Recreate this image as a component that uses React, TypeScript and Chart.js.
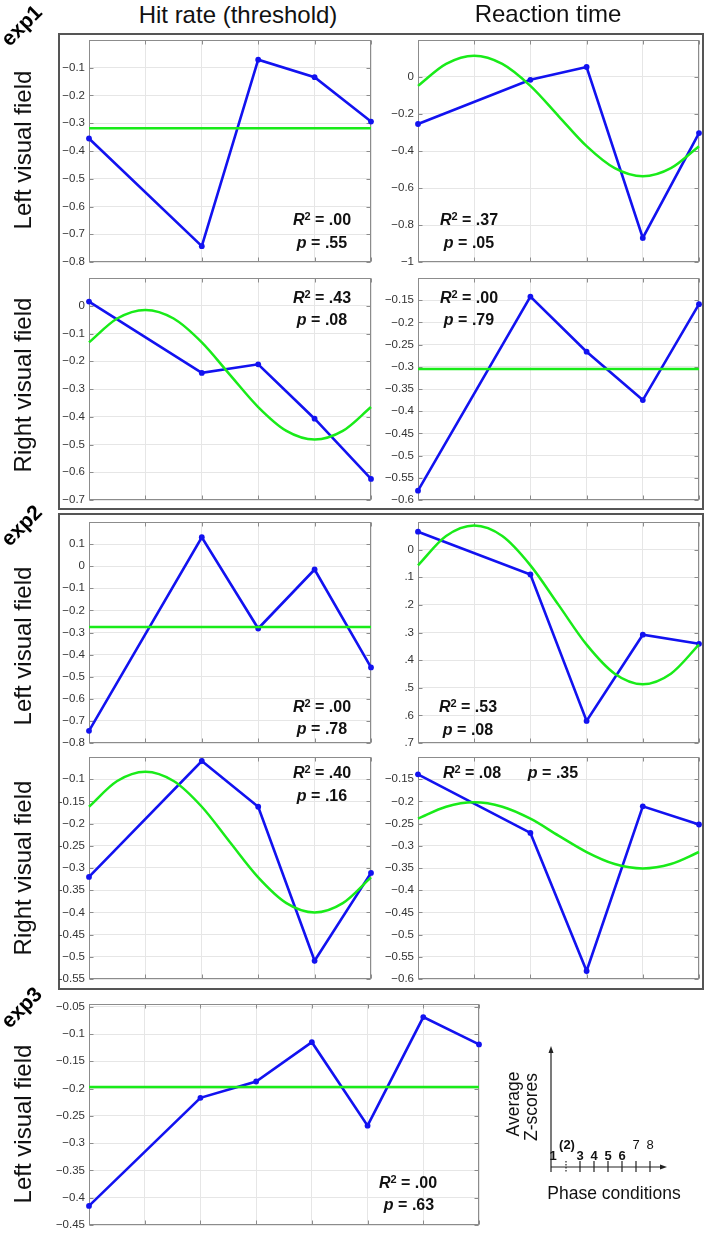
import React, { useEffect, useRef } from "react";
import { Chart, registerables } from "chart.js";
Chart.register(...registerables);

const FONT = "'Liberation Sans', Arial, Helvetica, sans-serif";
const BLUE = "rgb(18,18,240)";
const GREEN = "rgb(25,235,25)";

// ---------- data ----------
const phaseExp12 = [1, 3, 4, 5, 6];
const phaseExp3 = [1, 3, 4, 5, 6, 7, 8];
const fitPhase = [1, 1.5, 2, 2.5, 3, 3.5, 4, 4.5, 5, 5.5, 6];
const flatPhase12 = [1, 6];
const flatPhase3 = [1, 8];

// exp1
const hitL1 = [-0.355, -0.743, -0.071, -0.134, -0.294];
const fitHitL1 = [-0.318, -0.318];
const rtL1 = [-0.254, -0.015, 0.054, -0.87, -0.303];
const fitRtL1 = [-0.048, 0.071, 0.115, 0.071, -0.048, -0.211, -0.374, -0.493, -0.537, -0.493, -0.374];
const hitR1 = [0.015, -0.242, -0.211, -0.407, -0.624];
const fitHitR1 = [-0.132, -0.046, -0.015, -0.046, -0.132, -0.249, -0.365, -0.451, -0.482, -0.451, -0.365];
const rtR1 = [-0.579, -0.142, -0.266, -0.375, -0.159];
const fitRtR1 = [-0.305, -0.305];
// exp2
const hitL2 = [-0.745, 0.131, -0.282, -0.015, -0.458];
const fitHitL2 = [-0.275, -0.275];
const rtL2 = [0.065, -0.09, -0.62, -0.308, -0.341];
const fitRtL2 = [-0.057, 0.049, 0.087, 0.049, -0.057, -0.2, -0.344, -0.449, -0.487, -0.449, -0.344];
const hitR2 = [-0.32, -0.059, -0.162, -0.509, -0.311];
const fitHitR2 = [-0.162, -0.104, -0.083, -0.104, -0.162, -0.242, -0.321, -0.379, -0.4, -0.379, -0.321];
const rtR2 = [-0.139, -0.271, -0.582, -0.211, -0.252];
const fitRtR2 = [-0.239, -0.212, -0.202, -0.212, -0.239, -0.277, -0.314, -0.341, -0.351, -0.341, -0.314];
// exp3
const hitL3 = [-0.415, -0.217, -0.187, -0.115, -0.268, -0.069, -0.119];
const fitHitL3 = [-0.197, -0.197];

// tick values / labels
const ticksHitL1 = [-0.8, -0.7, -0.6, -0.5, -0.4, -0.3, -0.2, -0.1];
const labelsHitL1 = ["−0.8", "−0.7", "−0.6", "−0.5", "−0.4", "−0.3", "−0.2", "−0.1"];
const ticksRtL1 = [-1, -0.8, -0.6, -0.4, -0.2, 0];
const labelsRtL1 = ["−1", "−0.8", "−0.6", "−0.4", "−0.2", "0"];
const ticksHitR1 = [-0.7, -0.6, -0.5, -0.4, -0.3, -0.2, -0.1, 0];
const labelsHitR1 = ["−0.7", "−0.6", "−0.5", "−0.4", "−0.3", "−0.2", "−0.1", "0"];
const ticksRtR1 = [-0.6, -0.55, -0.5, -0.45, -0.4, -0.35, -0.3, -0.25, -0.2, -0.15];
const labelsRtR1 = ["−0.6", "−0.55", "−0.5", "−0.45", "−0.4", "−0.35", "−0.3", "−0.25", "−0.2", "−0.15"];
const ticksHitL2 = [-0.8, -0.7, -0.6, -0.5, -0.4, -0.3, -0.2, -0.1, 0, 0.1];
const labelsHitL2 = ["−0.8", "−0.7", "−0.6", "−0.5", "−0.4", "−0.3", "−0.2", "−0.1", "0", "0.1"];
const ticksRtL2 = [-0.7, -0.6, -0.5, -0.4, -0.3, -0.2, -0.1, 0];
const labelsRtL2 = [".7", ".6", ".5", ".4", ".3", ".2", ".1", "0"];
const ticksHitR2 = [-0.55, -0.5, -0.45, -0.4, -0.35, -0.3, -0.25, -0.2, -0.15, -0.1];
const labelsHitR2 = ["-0.55", "−0.5", "-0.45", "−0.4", "-0.35", "−0.3", "-0.25", "−0.2", "-0.15", "−0.1"];
const ticksRtR2 = [-0.6, -0.55, -0.5, -0.45, -0.4, -0.35, -0.3, -0.25, -0.2, -0.15];
const labelsRtR2 = ["−0.6", "−0.55", "−0.5", "−0.45", "−0.4", "−0.35", "−0.3", "−0.25", "−0.2", "−0.15"];
const ticksHitL3 = [-0.45, -0.4, -0.35, -0.3, -0.25, -0.2, -0.15, -0.1, -0.05];
const labelsHitL3 = ["−0.45", "−0.4", "−0.35", "−0.3", "−0.25", "−0.2", "−0.15", "−0.1", "−0.05"];

const r2Values = [".00", ".37", ".43", ".00", ".00", ".53", ".40", ".08", ".00"];
const pValues = [".55", ".05", ".08", ".79", ".78", ".08", ".16", ".35", ".63"];

type PanelDef = {
  left: number; top: number; right: number; bottom: number;
  xMax: number; xs: number[]; ys: number[];
  fitXs: number[]; fitYs: number[]; smooth: boolean;
  yMin: number; yMax: number; tickVals: number[]; tickLabels: string[];
};

const panels: PanelDef[] = [
  { left: 89, top: 40, right: 371, bottom: 262, xMax: 6, xs: phaseExp12, ys: hitL1, fitXs: flatPhase12, fitYs: fitHitL1, smooth: false, yMin: -0.8, yMax: 0, tickVals: ticksHitL1, tickLabels: labelsHitL1 },
  { left: 418, top: 40, right: 699, bottom: 262, xMax: 6, xs: phaseExp12, ys: rtL1, fitXs: fitPhase, fitYs: fitRtL1, smooth: true, yMin: -1, yMax: 0.2, tickVals: ticksRtL1, tickLabels: labelsRtL1 },
  { left: 89, top: 278, right: 371, bottom: 500, xMax: 6, xs: phaseExp12, ys: hitR1, fitXs: fitPhase, fitYs: fitHitR1, smooth: true, yMin: -0.7, yMax: 0.1, tickVals: ticksHitR1, tickLabels: labelsHitR1 },
  { left: 418, top: 278, right: 699, bottom: 500, xMax: 6, xs: phaseExp12, ys: rtR1, fitXs: flatPhase12, fitYs: fitRtR1, smooth: false, yMin: -0.6, yMax: -0.1, tickVals: ticksRtR1, tickLabels: labelsRtR1 },
  { left: 89, top: 522, right: 371, bottom: 743, xMax: 6, xs: phaseExp12, ys: hitL2, fitXs: flatPhase12, fitYs: fitHitL2, smooth: false, yMin: -0.8, yMax: 0.2, tickVals: ticksHitL2, tickLabels: labelsHitL2 },
  { left: 418, top: 522, right: 699, bottom: 743, xMax: 6, xs: phaseExp12, ys: rtL2, fitXs: fitPhase, fitYs: fitRtL2, smooth: true, yMin: -0.7, yMax: 0.1, tickVals: ticksRtL2, tickLabels: labelsRtL2 },
  { left: 89, top: 757, right: 371, bottom: 979, xMax: 6, xs: phaseExp12, ys: hitR2, fitXs: fitPhase, fitYs: fitHitR2, smooth: true, yMin: -0.55, yMax: -0.05, tickVals: ticksHitR2, tickLabels: labelsHitR2 },
  { left: 418, top: 757, right: 699, bottom: 979, xMax: 6, xs: phaseExp12, ys: rtR2, fitXs: fitPhase, fitYs: fitRtR2, smooth: true, yMin: -0.6, yMax: -0.1, tickVals: ticksRtR2, tickLabels: labelsRtR2 },
  { left: 89, top: 1004, right: 479, bottom: 1225, xMax: 8, xs: phaseExp3, ys: hitL3, fitXs: flatPhase3, fitYs: fitHitL3, smooth: false, yMin: -0.45, yMax: -0.045, tickVals: ticksHitL3, tickLabels: labelsHitL3 },
];

const boxPlugin = {
  id: "matlabBox",
  beforeDatasetsDraw(chart: any) {
    const { ctx, chartArea: a, scales } = chart;
    ctx.save();
    ctx.strokeStyle = "#8c8c8c";
    ctx.lineWidth = 1;
    const tl = 4;
    const L = Math.round(a.left) + 0.5, R = Math.round(a.right) - 0.5;
    const T = Math.round(a.top) + 0.5, B = Math.round(a.bottom) - 0.5;
    ctx.beginPath();
    scales.y.ticks.forEach((t: any) => {
      const y = Math.round(scales.y.getPixelForValue(t.value)) + 0.5;
      ctx.moveTo(L, y); ctx.lineTo(L + tl, y);
      ctx.moveTo(R, y); ctx.lineTo(R - tl, y);
    });
    scales.x.ticks.forEach((t: any) => {
      const x = Math.round(scales.x.getPixelForValue(t.value)) + 0.5;
      ctx.moveTo(x, B); ctx.lineTo(x, B - tl);
      ctx.moveTo(x, T); ctx.lineTo(x, T + tl);
    });
    ctx.stroke();
    ctx.strokeRect(L, T, R - L, B - T);
    ctx.restore();
  },
};

const PAD_L = 55;
const PAD = 12;

function Panel({ def }: { def: PanelDef }) {
  const ref = useRef<HTMLCanvasElement>(null);
  const w = def.right - def.left + PAD_L + PAD;
  const h = def.bottom - def.top + 2 * PAD;
  useEffect(() => {
    const canvas = ref.current;
    if (!canvas) return;
    const chart = new Chart(canvas, {
      type: "line",
      data: {
        datasets: [
          {
            data: def.fitXs.map((x, i) => ({ x, y: def.fitYs[i] })),
            borderColor: GREEN,
            borderWidth: 2.5,
            pointRadius: 0,
            cubicInterpolationMode: def.smooth ? "monotone" : "default",
            tension: 0,
            clip: false,
          } as any,
          {
            data: def.xs.map((x, i) => ({ x, y: def.ys[i] })),
            borderColor: BLUE,
            backgroundColor: BLUE,
            borderWidth: 2.6,
            pointRadius: 2.9,
            pointBorderWidth: 0,
            pointBackgroundColor: BLUE,
            tension: 0,
            clip: false,
          } as any,
        ],
      },
      options: {
        responsive: false,
        animation: false,
        devicePixelRatio: 1,
        layout: { padding: { left: 0, right: PAD, top: PAD, bottom: PAD } },
        plugins: { legend: { display: false }, tooltip: { enabled: false } },
        scales: {
          x: {
            type: "linear",
            min: 1,
            max: def.xMax,
            ticks: { display: false, stepSize: 1 },
            grid: { color: "#e6e6e6", lineWidth: 1, drawTicks: false },
            border: { display: false },
            afterFit: (axis: any) => { axis.height = 0; },
          },
          y: {
            type: "linear",
            min: def.yMin,
            max: def.yMax,
            afterBuildTicks: (axis: any) => {
              axis.ticks = def.tickVals.map((v) => ({ value: v }));
            },
            afterFit: (axis: any) => { axis.width = PAD_L; },
            ticks: {
              autoSkip: false,
              padding: 4,
              color: "#333333",
              font: { family: FONT, size: 11.5 },
              callback: (v: any) => {
                const i = def.tickVals.findIndex((t) => Math.abs(t - Number(v)) < 1e-9);
                return i >= 0 ? def.tickLabels[i] : "";
              },
            },
            grid: { color: "#e6e6e6", lineWidth: 1, drawTicks: false },
            border: { display: false },
          },
        },
      } as any,
      plugins: [boxPlugin],
    });
    return () => chart.destroy();
  }, [def]);
  return (
    <canvas
      ref={ref}
      width={w}
      height={h}
      style={{ position: "absolute", left: def.left - PAD_L, top: def.top - PAD, width: w, height: h }}
    />
  );
}

const textBase: React.CSSProperties = {
  position: "absolute",
  fontFamily: FONT,
  whiteSpace: "nowrap",
  color: "#111",
  lineHeight: 1,
};

function Centered({ x, y, rot = 0, style, children }: { x: number; y: number; rot?: number; style?: React.CSSProperties; children: React.ReactNode }) {
  return (
    <div style={{ ...textBase, left: x, top: y, transform: `translate(-50%, -50%) rotate(${rot}deg)`, ...style }}>
      {children}
    </div>
  );
}

function R2({ v }: { v: string }) {
  return (
    <span>
      <i>R</i>
      <span style={{ fontSize: 11, position: "relative", top: -5 }}>2</span> = {v}
    </span>
  );
}
function P({ v }: { v: string }) {
  return (
    <span>
      <i>p</i> = {v}
    </span>
  );
}

const annotStyle: React.CSSProperties = { fontSize: 16, fontWeight: "bold", color: "#111" };

export default function App() {
  const rowLabel: React.CSSProperties = { fontSize: 24, color: "#111" };
  const expLabel: React.CSSProperties = { fontSize: 21, fontWeight: "bold", color: "#000" };
  return (
    <div style={{ position: "absolute", left: 0, top: 0, width: 709, height: 1239, background: "#fff", overflow: "hidden" }}>
      {/* outer boxes */}
      <div style={{ position: "absolute", left: 58, top: 33, width: 642, height: 473, border: "2px solid #555" }} />
      <div style={{ position: "absolute", left: 58, top: 513, width: 642, height: 473, border: "2px solid #555" }} />

      {panels.map((d, i) => (
        <Panel key={i} def={d} />
      ))}

      {/* column titles */}
      <Centered x={238} y={15} style={{ fontSize: 24 }}>Hit rate (threshold)</Centered>
      <Centered x={548} y={14} style={{ fontSize: 24 }}>Reaction time</Centered>

      {/* experiment labels */}
      <Centered x={21} y={25} rot={-45} style={expLabel}>exp1</Centered>
      <Centered x={21} y={525} rot={-45} style={expLabel}>exp2</Centered>
      <Centered x={21} y={1007} rot={-45} style={expLabel}>exp3</Centered>

      {/* row labels */}
      <Centered x={23} y={150} rot={-90} style={rowLabel}>Left visual field</Centered>
      <Centered x={23} y={385} rot={-90} style={rowLabel}>Right visual field</Centered>
      <Centered x={23} y={646} rot={-90} style={rowLabel}>Left visual field</Centered>
      <Centered x={23} y={868} rot={-90} style={rowLabel}>Right visual field</Centered>
      <Centered x={23} y={1124} rot={-90} style={rowLabel}>Left visual field</Centered>

      {/* statistics */}
      <Centered x={322} y={220} style={annotStyle}><R2 v={r2Values[0]} /></Centered>
      <Centered x={322} y={243} style={annotStyle}><P v={pValues[0]} /></Centered>
      <Centered x={469} y={220} style={annotStyle}><R2 v={r2Values[1]} /></Centered>
      <Centered x={469} y={243} style={annotStyle}><P v={pValues[1]} /></Centered>
      <Centered x={322} y={298} style={annotStyle}><R2 v={r2Values[2]} /></Centered>
      <Centered x={322} y={320} style={annotStyle}><P v={pValues[2]} /></Centered>
      <Centered x={469} y={298} style={annotStyle}><R2 v={r2Values[3]} /></Centered>
      <Centered x={469} y={320} style={annotStyle}><P v={pValues[3]} /></Centered>
      <Centered x={322} y={707} style={annotStyle}><R2 v={r2Values[4]} /></Centered>
      <Centered x={322} y={729} style={annotStyle}><P v={pValues[4]} /></Centered>
      <Centered x={468} y={707} style={annotStyle}><R2 v={r2Values[5]} /></Centered>
      <Centered x={468} y={730} style={annotStyle}><P v={pValues[5]} /></Centered>
      <Centered x={322} y={773} style={annotStyle}><R2 v={r2Values[6]} /></Centered>
      <Centered x={322} y={796} style={annotStyle}><P v={pValues[6]} /></Centered>
      <Centered x={472} y={773} style={annotStyle}><R2 v={r2Values[7]} /></Centered>
      <Centered x={553} y={773} style={annotStyle}><P v={pValues[7]} /></Centered>
      <Centered x={408} y={1183} style={annotStyle}><R2 v={r2Values[8]} /></Centered>
      <Centered x={409} y={1205} style={annotStyle}><P v={pValues[8]} /></Centered>

      {/* schematic inset */}
      <svg style={{ position: "absolute", left: 480, top: 1030 }} width={229} height={190}>
        <g stroke="#222" strokeWidth={1.2} fill="none">
          <line x1={71} y1={20} x2={71} y2={142} />
          <line x1={71} y1={137} x2={182} y2={137} />
          <line x1={100} y1={131} x2={100} y2={142} />
          <line x1={114} y1={131} x2={114} y2={142} />
          <line x1={128} y1={131} x2={128} y2={142} />
          <line x1={142} y1={131} x2={142} y2={142} />
          <line x1={156} y1={131} x2={156} y2={142} />
          <line x1={170} y1={131} x2={170} y2={142} />
          <line x1={86} y1={131} x2={86} y2={142} strokeDasharray="1.5,1.5" />
        </g>
        <polygon points="71,16 68.5,23 73.5,23" fill="#222" />
        <polygon points="187,137 180,134.5 180,139.5" fill="#222" />
        <g fontFamily={FONT} fontSize={13} fill="#111" textAnchor="middle">
          <text x={73} y={130} fontWeight="bold">1</text>
          <text x={87} y={119} fontWeight="bold">(2)</text>
          <text x={100} y={130} fontWeight="bold">3</text>
          <text x={114} y={130} fontWeight="bold">4</text>
          <text x={128} y={130} fontWeight="bold">5</text>
          <text x={142} y={130} fontWeight="bold">6</text>
          <text x={156} y={119}>7</text>
          <text x={170} y={119}>8</text>
        </g>
        <g fontFamily={FONT} fontSize={17.5} fill="#111" textAnchor="middle">
          <text transform="translate(34,74) rotate(-90)" dominantBaseline="middle">Average</text>
          <text transform="translate(52,77) rotate(-90)" dominantBaseline="middle">Z-scores</text>
          <text x={134} y={169}>Phase conditions</text>
        </g>
      </svg>
    </div>
  );
}
